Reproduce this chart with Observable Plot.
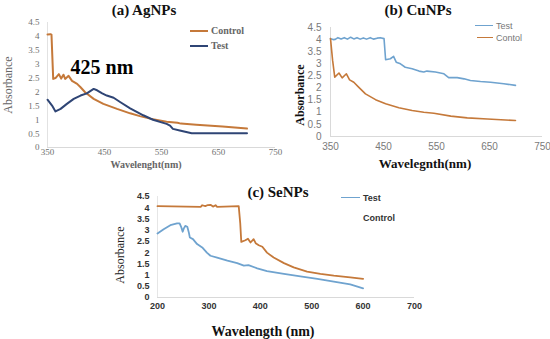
<!DOCTYPE html>
<html>
<head>
<meta charset="utf-8">
<script src="https://cdn.jsdelivr.net/npm/d3@7"></script>
<script src="https://cdn.jsdelivr.net/npm/@observablehq/plot@0.6"></script>
<style>
  html, body { margin: 0; padding: 0; background: #fff; }
  #wrap { position: relative; width: 550px; height: 339px; overflow: hidden; background: #fff; }
  .lbl { position: absolute; white-space: nowrap; transform: translate(-50%, -50%); line-height: 1; }
  .rot { transform: translate(-50%, -50%) rotate(-90deg); }
  .lg { position: absolute; white-space: nowrap; line-height: 1; transform: translateY(-50%); }
  .sw { position: absolute; height: 0; }
</style>
</head>
<body>
<div id="wrap"></div>
<script>
// ---------- DATA ----------
const yTicks = [0, 0.5, 1, 1.5, 2, 2.5, 3, 3.5, 4, 4.5];
const xTicksAB = [350, 450, 550, 650, 750];
const xTicksC = [200, 300, 400, 500, 600, 700];

// (a) AgNPs
const agControlX = [350, 355, 357, 360, 364, 370, 374, 378, 381, 387, 393, 402, 408, 416, 431, 448, 472, 495, 512, 530, 559, 578, 584, 611, 657, 700];
const agControlY = [4.07, 4.08, 4.06, 2.47, 2.5, 2.64, 2.48, 2.62, 2.47, 2.58, 2.4, 2.29, 2.17, 1.99, 1.75, 1.57, 1.39, 1.23, 1.13, 1.04, 0.93, 0.89, 0.86, 0.82, 0.76, 0.68];
const agTestX = [350, 358, 364, 373, 384, 396, 408, 419, 431, 437, 446, 454, 466, 478, 495, 518, 535, 559, 565, 570, 582, 603, 700];
const agTestY = [1.72, 1.51, 1.3, 1.39, 1.57, 1.75, 1.87, 1.95, 2.11, 2.06, 1.95, 1.87, 1.79, 1.63, 1.41, 1.16, 1.0, 0.85, 0.79, 0.67, 0.61, 0.51, 0.51];

// (b) CuNPs
const cuTestX = [350, 355, 359, 364, 370, 376, 382, 388, 394, 400, 406, 412, 418, 425, 431, 438, 444, 451, 454, 463, 469, 474, 482, 491, 504, 517, 526, 532, 548, 564, 573, 589, 602, 614, 633, 652, 677, 699];
const cuTestY = [4.04, 4.0, 4.01, 4.08, 4.03, 4.08, 4.02, 4.1, 4.03, 4.08, 4.02, 4.07, 4.02, 4.08, 4.02, 4.06, 4.08, 4.04, 3.17, 3.21, 3.31, 3.07, 3.0, 2.86, 2.8, 2.7, 2.66, 2.7, 2.66, 2.59, 2.43, 2.43, 2.38, 2.31, 2.27, 2.24, 2.18, 2.11];
const cuControlX = [350, 354, 358, 366, 372, 380, 386, 394, 403, 416, 435, 454, 479, 504, 526, 545, 577, 608, 646, 699];
const cuControlY = [4.04, 3.14, 2.45, 2.62, 2.42, 2.59, 2.34, 2.24, 2.04, 1.76, 1.52, 1.35, 1.19, 1.07, 1.0, 0.96, 0.84, 0.77, 0.72, 0.66];

// (c) SeNPs
const seControlX = [200, 284, 287, 293, 298, 303, 308, 313, 316, 358, 361, 363, 371, 376, 381, 387, 391, 397, 404, 413, 426, 446, 465, 491, 517, 543, 575, 600];
const seControlY = [4.07, 4.04, 4.11, 4.07, 4.12, 4.13, 4.05, 4.11, 4.04, 4.07, 3.3, 2.48, 2.55, 2.62, 2.45, 2.6, 2.42, 2.33, 2.26, 2.0, 1.78, 1.53, 1.34, 1.15, 1.05, 0.97, 0.9, 0.83];
const seTestX = [200, 212, 225, 238, 243, 246, 249, 251, 254, 258, 261, 263, 269, 277, 287, 296, 303, 316, 336, 355, 368, 377, 394, 413, 446, 478, 511, 543, 575, 600];
const seTestY = [2.85, 3.04, 3.22, 3.3, 3.3, 3.15, 2.93, 3.07, 3.19, 3.15, 2.89, 2.67, 2.6, 2.38, 2.23, 2.0, 1.86, 1.78, 1.64, 1.53, 1.42, 1.44, 1.3, 1.18, 1.05, 0.94, 0.83, 0.71, 0.58, 0.41];

// ---------- HELPERS ----------
const pts = (xs, ys) => xs.map((x, i) => ({x, y: ys[i]}));
const wrap = document.getElementById("wrap");

function panel(o) {
  const p = Plot.plot({
    width: o.width, height: o.height,
    marginLeft: o.ml, marginRight: o.mr, marginTop: o.mt, marginBottom: o.mb,
    style: Object.assign({background: "transparent", overflow: "visible"}, o.style),
    x: {domain: o.xDomain, ticks: o.xTicks, tickSize: 0, tickPadding: o.xPad, label: null, tickFormat: d => String(d)},
    y: {domain: [0, 4.5], ticks: yTicks, tickSize: 0, tickPadding: o.yPad, label: null, tickFormat: d => String(d)},
    marks: [
      Plot.ruleY([0], {stroke: "#d9d9d9", strokeWidth: 1}),
      Plot.ruleX([o.xDomain[0]], {stroke: o.yAxisColor, strokeWidth: 1}),
      ...o.series.map(s => Plot.line(pts(s.x, s.y), {x: "x", y: "y", stroke: s.color, strokeWidth: s.w, curve: "linear"}))
    ]
  });
  p.style.position = "absolute";
  p.style.left = o.left + "px";
  p.style.top = o.top + "px";
  wrap.appendChild(p);
}

function label(text, x, y, css, rot) {
  const d = document.createElement("div");
  d.className = "lbl" + (rot ? " rot" : "");
  d.textContent = text;
  d.style.left = x + "px";
  d.style.top = y + "px";
  d.style.cssText += css;
  wrap.appendChild(d);
}

function legend(text, x, y, css, sw) {
  if (sw) {
    const s = document.createElement("div");
    s.className = "sw";
    s.style.left = sw.x0 + "px";
    s.style.width = (sw.x1 - sw.x0) + "px";
    s.style.top = (y - sw.w / 2) + "px";
    s.style.borderTop = sw.w + "px solid " + sw.color;
    wrap.appendChild(s);
  }
  const d = document.createElement("div");
  d.className = "lg";
  d.textContent = text;
  d.style.left = x + "px";
  d.style.top = y + "px";
  d.style.cssText += css;
  wrap.appendChild(d);
}

const ORANGE = "#c5793a";
const NAVY = "#2f4575";
const BLUE = "#6fa3cf";
const serif = "'Liberation Serif', 'Times New Roman', serif";
const sans = "'Liberation Sans', Arial, sans-serif";

// ---------- (a) AgNPs ----------
panel({
  left: 0, top: 0, width: 275, height: 170, ml: 47, mr: 0, mt: 22, mb: 23,
  xDomain: [350, 750], xTicks: xTicksAB, xPad: 1, yPad: 8, yAxisColor: "#e2e2e2",
  style: {fontFamily: serif, fontSize: "9px", color: "#6f6f6f"},
  series: [
    {x: agControlX, y: agControlY, color: ORANGE, w: 2},
    {x: agTestX, y: agTestY, color: NAVY, w: 2}
  ]
});
label("(a) AgNPs", 144, 10, `font-family:${serif};font-weight:bold;font-size:15px;color:#111;`);
label("425 nm", 102, 67, `font-family:${serif};font-weight:bold;font-size:20px;color:#000;`);
label("Absorbance", 8, 85, `font-family:${serif};font-size:12px;color:#666;`, true);
label("Wavelenght(nm)", 146, 165, `font-family:${serif};font-weight:bold;font-size:10px;color:#666;`);
legend("Control", 211, 31, `font-family:${serif};font-weight:bold;font-size:10px;color:#666;`, {x0: 190, x1: 208, w: 2, color: ORANGE});
legend("Test", 211, 46, `font-family:${serif};font-weight:bold;font-size:10px;color:#666;`, {x0: 190, x1: 208, w: 2, color: NAVY});

// ---------- (b) CuNPs ----------
panel({
  left: 275, top: 0, width: 275, height: 170, ml: 55, mr: 8, mt: 27, mb: 34,
  xDomain: [350, 750], xTicks: xTicksAB, xPad: 6, yPad: 9, yAxisColor: "#d9d9d9",
  style: {fontFamily: sans, fontSize: "10px", color: "#7a7a7a"},
  series: [
    {x: cuTestX, y: cuTestY, color: BLUE, w: 1.6},
    {x: cuControlX, y: cuControlY, color: ORANGE, w: 1.6}
  ]
});
label("(b) CuNPs", 418, 10, `font-family:${serif};font-weight:bold;font-size:15px;color:#111;`);
label("Absorbance", 300, 95, `font-family:${serif};font-weight:bold;font-size:12px;color:#111;`, true);
label("Wavelegnth(nm)", 425, 163, `font-family:${serif};font-weight:bold;font-size:13px;color:#111;`);
legend("Test", 496, 26, `font-family:${sans};font-size:9px;color:#777;`, {x0: 475, x1: 493, w: 1.6, color: BLUE});
legend("Contol", 496, 38, `font-family:${sans};font-size:9px;color:#777;`, {x0: 477, x1: 493, w: 1.6, color: ORANGE});

// ---------- (c) SeNPs ----------
panel({
  left: 110, top: 180, width: 320, height: 159, ml: 47, mr: 16, mt: 16, mb: 42,
  xDomain: [200, 700], xTicks: xTicksC, xPad: 5, yPad: 8, yAxisColor: "#e6e6e6",
  style: {fontFamily: sans, fontSize: "9px", fontWeight: "bold", color: "#333"},
  series: [
    {x: seControlX, y: seControlY, color: ORANGE, w: 1.8},
    {x: seTestX, y: seTestY, color: BLUE, w: 1.8}
  ]
});
label("(c) SeNPs", 278, 192, `font-family:${serif};font-weight:bold;font-size:15px;color:#111;`);
label("Absorbance", 120, 255, `font-family:${serif};font-size:12px;color:#222;`, true);
label("Wavelength (nm)", 263, 332, `font-family:${serif};font-weight:bold;font-size:14px;color:#111;`);
legend("Test", 363, 198, `font-family:${sans};font-weight:bold;font-size:9px;color:#333;`, {x0: 341, x1: 360, w: 1.8, color: BLUE});
legend("Control", 363, 218, `font-family:${sans};font-weight:bold;font-size:9px;color:#333;`, null);
</script>
</body>
</html>
